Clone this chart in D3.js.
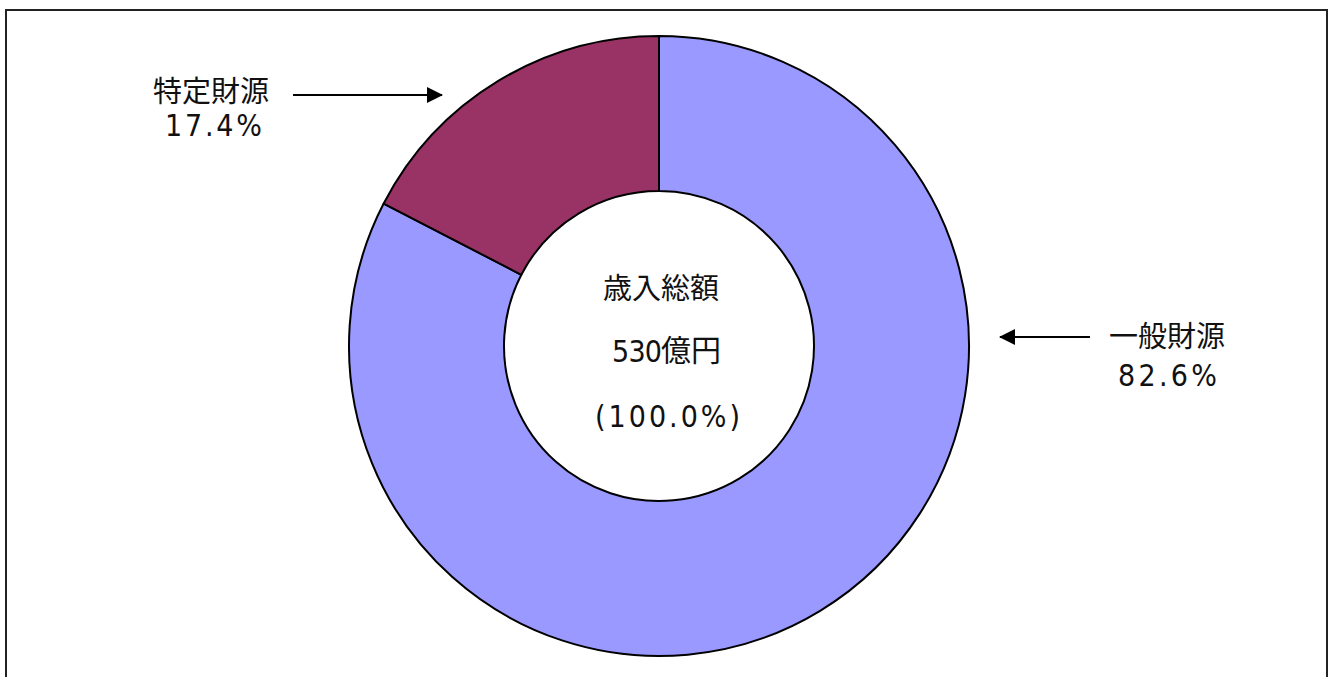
<!DOCTYPE html>
<html>
<head>
<meta charset="utf-8">
<script src="https://cdn.jsdelivr.net/npm/d3@7"></script>
<style>
  html, body { margin: 0; padding: 0; background: #fff; }
  svg { display: block; }
  text { font-family: "Noto Sans CJK JP", "Noto Sans", sans-serif; fill: #111; }
  text.num { font-family: "Liberation Sans Narrow", "DejaVu Sans Condensed", "Liberation Sans", sans-serif; }
</style>
</head>
<body>
<svg id="chart" width="1334" height="677"></svg>
<script>
const categories = ["一般財源", "特定財源"];
const values = [82.6, 17.4];
const colors = ["#9999FF", "#993366"];
const centerTitle = "歳入総額";
const totalValue = "530";
const totalUnit = "億円";
const totalShare = "(100.0%)";

const svg = d3.select("#chart");

// frame
svg.append("rect")
  .attr("x", 6).attr("y", 10)
  .attr("width", 1321).attr("height", 680)
  .attr("fill", "none").attr("stroke", "#222").attr("stroke-width", 2);

const cx = 659, cy = 346, rOuter = 310, rInner = 155;
const g = svg.append("g").attr("transform", `translate(${cx},${cy})`);

const pie = d3.pie().sort(null).value(d => d)(values);
const arc = d3.arc().innerRadius(rInner).outerRadius(rOuter);

g.selectAll("path.slice")
  .data(pie)
  .enter().append("path")
  .attr("class", "slice")
  .attr("d", arc)
  .attr("fill", (d, i) => colors[i])
  .attr("stroke", "#000")
  .attr("stroke-width", 2)
  .attr("stroke-linejoin", "round");

// arrow marker
svg.append("defs").append("marker")
  .attr("id", "arrow")
  .attr("viewBox", "0 0 16 16")
  .attr("refX", 15).attr("refY", 8)
  .attr("markerWidth", 16).attr("markerHeight", 16)
  .attr("markerUnits", "userSpaceOnUse")
  .attr("orient", "auto")
  .append("path")
  .attr("d", "M0,0 L16,8 L0,16 Z")
  .attr("fill", "#000");

const fmt = v => v.toFixed(1) + "%";

// left label (特定財源)
svg.append("text")
  .attr("x", 211).attr("y", 102)
  .attr("text-anchor", "middle")
  .attr("font-size", 29)
  .text(categories[1]);
svg.append("text").attr("class", "num")
  .attr("x", 165).attr("y", 136)
  .attr("font-size", 30)
  .attr("textLength", 97).attr("lengthAdjust", "spacing")
  .text(fmt(values[1]));
svg.append("line")
  .attr("x1", 293).attr("y1", 95).attr("x2", 442).attr("y2", 95)
  .attr("stroke", "#000").attr("stroke-width", 2)
  .attr("marker-end", "url(#arrow)");

// right label (一般財源)
svg.append("text")
  .attr("x", 1167).attr("y", 347)
  .attr("text-anchor", "middle")
  .attr("font-size", 29)
  .text(categories[0]);
svg.append("text").attr("class", "num")
  .attr("x", 1118).attr("y", 386)
  .attr("font-size", 30)
  .attr("textLength", 99).attr("lengthAdjust", "spacing")
  .text(fmt(values[0]));
svg.append("line")
  .attr("x1", 1090).attr("y1", 337).attr("x2", 1000).attr("y2", 337)
  .attr("stroke", "#000").attr("stroke-width", 2)
  .attr("marker-end", "url(#arrow)");

// center text
svg.append("text")
  .attr("x", 661).attr("y", 299)
  .attr("text-anchor", "middle")
  .attr("font-size", 29)
  .text(centerTitle);
svg.append("text").attr("class", "num")
  .attr("x", 612).attr("y", 362)
  .attr("font-size", 30)
  .attr("textLength", 50).attr("lengthAdjust", "spacing")
  .text(totalValue);
svg.append("text")
  .attr("x", 661).attr("y", 361)
  .attr("font-size", 30)
  .text(totalUnit);
svg.append("text").attr("class", "num")
  .attr("x", 595).attr("y", 427)
  .attr("font-size", 30)
  .attr("textLength", 145).attr("lengthAdjust", "spacing")
  .text(totalShare);
</script>
</body>
</html>
